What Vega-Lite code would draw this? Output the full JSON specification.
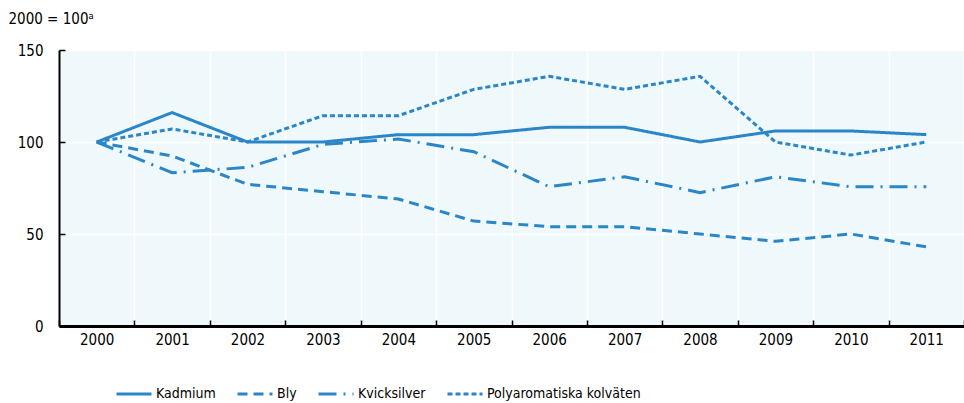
{
  "$schema": "https://vega.github.io/schema/vega-lite/v6.json",
  "autosize": {"type": "none"},
  "padding": {"left": 59, "top": 50, "right": 0, "bottom": 77},
  "width": 905,
  "height": 276,
  "background": "white",
  "config": {
    "view": {"fill": "#eff8fb", "stroke": null},
    "font": "Liberation Sans Narrow, DejaVu Sans Condensed, Liberation Sans",
    "axis": {"labelFont": "Liberation Sans Narrow, DejaVu Sans Condensed, Liberation Sans", "labelColor": "#000000", "titleFont": "Liberation Sans Narrow, DejaVu Sans Condensed, Liberation Sans", "titleColor": "#000000"},
    "legend": {"labelFont": "Liberation Sans Narrow, DejaVu Sans Condensed, Liberation Sans", "labelColor": "#000000"}
  },
  "data": {
    "values": [
      {"year": "2000", "series": "Kadmium", "value": 100},
      {"year": "2001", "series": "Kadmium", "value": 116},
      {"year": "2002", "series": "Kadmium", "value": 100},
      {"year": "2003", "series": "Kadmium", "value": 100},
      {"year": "2004", "series": "Kadmium", "value": 104},
      {"year": "2005", "series": "Kadmium", "value": 104},
      {"year": "2006", "series": "Kadmium", "value": 108},
      {"year": "2007", "series": "Kadmium", "value": 108},
      {"year": "2008", "series": "Kadmium", "value": 100},
      {"year": "2009", "series": "Kadmium", "value": 106},
      {"year": "2010", "series": "Kadmium", "value": 106},
      {"year": "2011", "series": "Kadmium", "value": 104},
      {"year": "2000", "series": "Bly", "value": 100},
      {"year": "2001", "series": "Bly", "value": 92.4},
      {"year": "2002", "series": "Bly", "value": 77},
      {"year": "2003", "series": "Bly", "value": 73},
      {"year": "2004", "series": "Bly", "value": 69},
      {"year": "2005", "series": "Bly", "value": 57},
      {"year": "2006", "series": "Bly", "value": 54},
      {"year": "2007", "series": "Bly", "value": 54},
      {"year": "2008", "series": "Bly", "value": 50},
      {"year": "2009", "series": "Bly", "value": 46},
      {"year": "2010", "series": "Bly", "value": 50},
      {"year": "2011", "series": "Bly", "value": 43},
      {"year": "2000", "series": "Kvicksilver", "value": 100},
      {"year": "2001", "series": "Kvicksilver", "value": 83.3},
      {"year": "2002", "series": "Kvicksilver", "value": 86.2},
      {"year": "2003", "series": "Kvicksilver", "value": 98.7},
      {"year": "2004", "series": "Kvicksilver", "value": 101.6},
      {"year": "2005", "series": "Kvicksilver", "value": 94.7},
      {"year": "2006", "series": "Kvicksilver", "value": 75.7},
      {"year": "2007", "series": "Kvicksilver", "value": 81.1},
      {"year": "2008", "series": "Kvicksilver", "value": 72.5},
      {"year": "2009", "series": "Kvicksilver", "value": 81.1},
      {"year": "2010", "series": "Kvicksilver", "value": 75.7},
      {"year": "2011", "series": "Kvicksilver", "value": 75.7},
      {"year": "2000", "series": "Polyaromatiska kolväten", "value": 100},
      {"year": "2001", "series": "Polyaromatiska kolväten", "value": 107.1},
      {"year": "2002", "series": "Polyaromatiska kolväten", "value": 100},
      {"year": "2003", "series": "Polyaromatiska kolväten", "value": 114.3},
      {"year": "2004", "series": "Polyaromatiska kolväten", "value": 114.3},
      {"year": "2005", "series": "Polyaromatiska kolväten", "value": 128.6},
      {"year": "2006", "series": "Polyaromatiska kolväten", "value": 135.7},
      {"year": "2007", "series": "Polyaromatiska kolväten", "value": 128.6},
      {"year": "2008", "series": "Polyaromatiska kolväten", "value": 135.7},
      {"year": "2009", "series": "Polyaromatiska kolväten", "value": 100},
      {"year": "2010", "series": "Polyaromatiska kolväten", "value": 92.9},
      {"year": "2011", "series": "Polyaromatiska kolväten", "value": 100}
    ]
  },
  "mark": {"type": "line", "color": "#2b86c7", "strokeWidth": 3},
  "encoding": {
    "x": {
      "field": "year",
      "type": "ordinal",
      "scale": {"type": "band", "paddingInner": 0, "paddingOuter": 0},
      "axis": {
        "title": null,
        "labelAngle": 0,
        "labelFontSize": 15,
        "labelPadding": 12,
        "tickBand": "extent",
        "tickSize": -6,
        "tickColor": "#000000",
        "tickWidth": 1.5,
        "grid": true,
        "gridColor": "#ffffff",
        "gridWidth": 1.5,
        "domainColor": "#000000",
        "domainWidth": 3
      }
    },
    "y": {
      "field": "value",
      "type": "quantitative",
      "scale": {"domain": [0, 150], "nice": false},
      "axis": {
        "values": [0, 50, 100, 150],
        "title": "2000 = 100ᵃ",
        "titleAngle": 0,
        "titleAlign": "left",
        "titleBaseline": "middle",
        "titleX": -51,
        "titleY": -32,
        "titleFontSize": 15,
        "titleFontWeight": "normal",
        "labelFontSize": 15,
        "labelPadding": 22,
        "tickSize": -6,
        "tickColor": "#000000",
        "tickWidth": 1.5,
        "grid": true,
        "gridColor": "#ffffff",
        "gridWidth": 1.5,
        "domainColor": "#000000",
        "domainWidth": 2
      }
    },
    "strokeDash": {
      "field": "series",
      "type": "nominal",
      "scale": {
        "domain": ["Kadmium", "Bly", "Kvicksilver", "Polyaromatiska kolväten"],
        "range": [[1, 0], [10, 6], [18, 7, 2, 7], [5, 3]]
      },
      "legend": {
        "title": null,
        "orient": "none",
        "legendX": 56,
        "legendY": 325,
        "direction": "horizontal",
        "columns": 4,
        "columnPadding": 15,
        "symbolType": "stroke",
        "symbolSize": 1225,
        "symbolStrokeWidth": 3,
        "symbolStrokeColor": "#2b86c7",
        "labelFontSize": 14,
        "labelOffset": 3
      }
    }
  }
}
